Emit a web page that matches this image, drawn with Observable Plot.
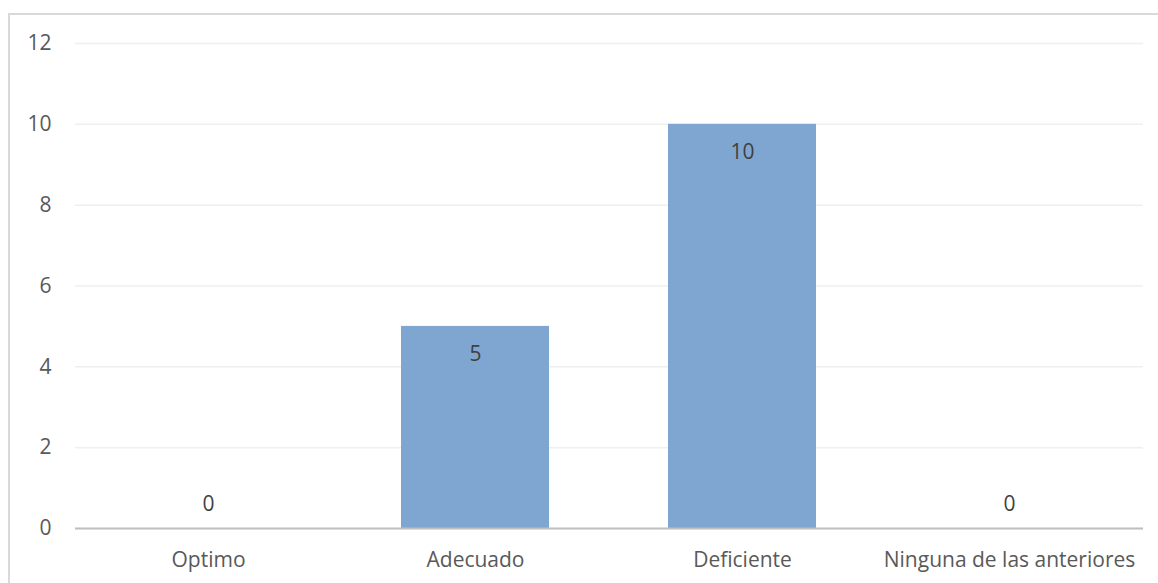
<!DOCTYPE html>
<html>
<head>
<meta charset="utf-8">
<script src="https://cdn.jsdelivr.net/npm/d3@7"></script>
<script src="https://cdn.jsdelivr.net/npm/@observablehq/plot@0.6"></script>
<style>
  html, body { margin: 0; padding: 0; background: #fff; }
  #wrap { position: relative; width: 1158px; height: 583px; overflow: hidden; }
  #border { position: absolute; left: 8px; top: 13px; width: 1160px; height: 600px;
            border: 2px solid #d9d9d9; box-sizing: border-box; }
  #chart { position: absolute; left: 0; top: 0; }
</style>
</head>
<body>
<div id="wrap"><div id="border"></div><div id="chart"></div></div>
<script>
// Categories and counts
const categories = ["Optimo", "Adecuado", "Deficiente", "Ninguna de las anteriores"];
const counts = [0, 5, 10, 0];
const yTicks = [0, 2, 4, 6, 8, 10, 12];

const data = categories.map((c, i) => ({category: c, value: counts[i]}));
const font = "Open Sans, Lato, sans-serif";
const textColor = "#595959";

const chart = Plot.plot({
  width: 1158,
  height: 583,
  marginLeft: 75,
  marginRight: 15,
  marginTop: 43,
  marginBottom: 55,
  style: {fontFamily: font, fontSize: "21px", color: textColor, background: "transparent"},
  x: {domain: categories, paddingInner: 0.445, paddingOuter: 0.2225, label: null},
  y: {domain: [0, 12], label: null},
  marks: [
    Plot.gridY(yTicks, {stroke: "#efefef", strokeOpacity: 1, strokeWidth: 1.5}),
    Plot.barY(data, {x: "category", y: "value", fill: "#7fa6d1"}),
    Plot.ruleY([0], {stroke: "#bfbfbf", strokeWidth: 2}),
    Plot.axisY(yTicks, {tickSize: 0, tickPadding: 24, fontSize: 21, fill: textColor}),
    Plot.axisX({tickSize: 0, tickPadding: 24, fontSize: 21, fill: textColor}),
    // value labels: inside the top of each bar, or just above the axis for zero
    Plot.text(data.filter(d => d.value > 0), {x: "category", y: "value", text: d => String(d.value),
      dy: 28, fill: "#404040", fontSize: 21}),
    Plot.text(data.filter(d => d.value === 0), {x: "category", y: "value", text: d => String(d.value),
      dy: -24, fill: "#404040", fontSize: 21})
  ]
});
document.getElementById("chart").appendChild(chart);
</script>
</body>
</html>
